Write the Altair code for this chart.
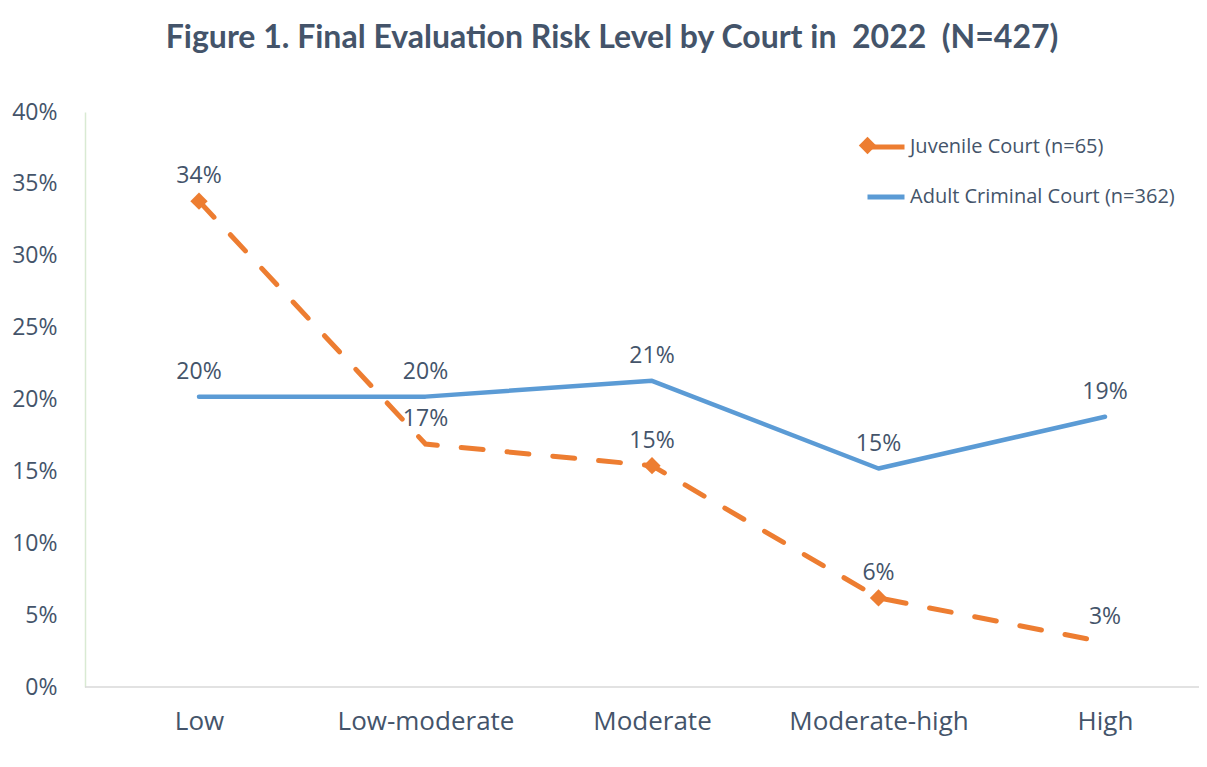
import altair as alt
import pandas as pd

categories = ["Low", "Low-moderate", "Moderate", "Moderate-high", "High"]
series_names = ["Juvenile Court (n=65)", "Adult Criminal Court (n=362)"]
juvenile_values = [0.338, 0.169, 0.154, 0.062, 0.031]
adult_values = [0.202, 0.202, 0.213, 0.152, 0.188]
juvenile_marker_categories = ["Low", "Moderate", "Moderate-high"]
title_text = "Figure 1. Final Evaluation Risk Level by Court in \u00a02022 \u00a0(N=427)"

ORANGE = "#ED7D31"
BLUE = "#5B9BD5"
TEXT = "#44546A"
FONT = "Open Sans"

W, H = 1114, 575

rows = []
for cat, v in zip(categories, juvenile_values):
    rows.append({"category": cat, "series": series_names[0], "value": v})
for cat, v in zip(categories, adult_values):
    rows.append({"category": cat, "series": series_names[1], "value": v})
df = pd.DataFrame(rows)

x_enc = alt.X(
    "category:N",
    sort=categories,
    scale=alt.Scale(type="point", range=[114, 1020], padding=0),
    axis=alt.Axis(title=None, domain=False, ticks=False, labelAngle=0,
                  labelPadding=21, labelFontSize=26, labelFont=FONT,
                  labelColor=TEXT),
)
y_enc = alt.Y(
    "value:Q",
    scale=alt.Scale(domain=[0, 0.4], nice=False),
    axis=alt.Axis(title=None, format=".0%", values=[i * 0.05 for i in range(9)],
                  ticks=False, grid=False, domain=True, domainColor="#D9EAD3",
                  domainWidth=1.5, labelPadding=28, labelFontSize=23,
                  labelFont=FONT, labelColor=TEXT),
)

color_enc = alt.Color(
    "series:N",
    scale=alt.Scale(domain=series_names, range=[ORANGE, BLUE]),
    legend=alt.Legend(orient="none", legendX=780, legendY=14, title=None,
                      symbolType="stroke", symbolStrokeWidth=5, symbolSize=1369,
                      labelFontSize=20, labelFont=FONT, labelColor=TEXT,
                      labelLimit=400, rowPadding=19, labelOffset=3, padding=0),
)

base = alt.Chart(df)

bottom_line = alt.Chart(pd.DataFrame({"v": [0.0]})).mark_rule(
    color="#D9D9D9", strokeWidth=1.5
).encode(x=alt.value(0), x2=alt.value(W), y=alt.Y("v:Q", scale=alt.Scale(domain=[0, 0.4], nice=False)))

adult_line = base.transform_filter(
    alt.datum.series == series_names[1]
).mark_line(strokeWidth=4.5, strokeCap="round", strokeJoin="round").encode(
    x=x_enc, y=y_enc, color=color_enc
)

juv_line = base.transform_filter(
    alt.datum.series == series_names[0]
).mark_line(strokeWidth=5, strokeDash=[22, 24], strokeCap="round").encode(
    x=x_enc, y=y_enc, color=color_enc
)

juv_points = base.transform_filter(
    alt.datum.series == series_names[0]
).transform_filter(
    alt.FieldOneOfPredicate(field="category", oneOf=juvenile_marker_categories)
).transform_calculate(series2="datum.series").mark_point(
    filled=True, size=300, opacity=1, color=ORANGE
).encode(
    x=x_enc, y=y_enc,
    shape=alt.Shape("series2:N", scale=alt.Scale(range=["diamond"]),
                    legend=alt.Legend(orient="none", legendX=773, legendY=24,
                                      title=None, symbolSize=300,
                                      symbolFillColor=ORANGE,
                                      symbolStrokeColor=ORANGE,
                                      labelExpr="''", labelOpacity=0,
                                      padding=0)),
)

labels = base.mark_text(dy=-25, fontSize=23, font=FONT, color=TEXT).encode(
    x=x_enc, y=y_enc, text=alt.Text("value:Q", format=".0%")
)

chart = alt.layer(bottom_line, adult_line, juv_line, juv_points, labels).properties(
    width=W,
    height=H,
    autosize=alt.AutoSizeParams(type="none"),
    padding={"left": 77, "top": 104, "right": 0, "bottom": 60},
    title=alt.TitleParams(title_text, fontSize=32, font="Lato", fontWeight="bold",
                          color=TEXT, anchor="middle", offset=46, dx=-30),
).configure_view(stroke=None)

chart.save("out.html", embed_options={"renderer": "svg", "actions": False})
